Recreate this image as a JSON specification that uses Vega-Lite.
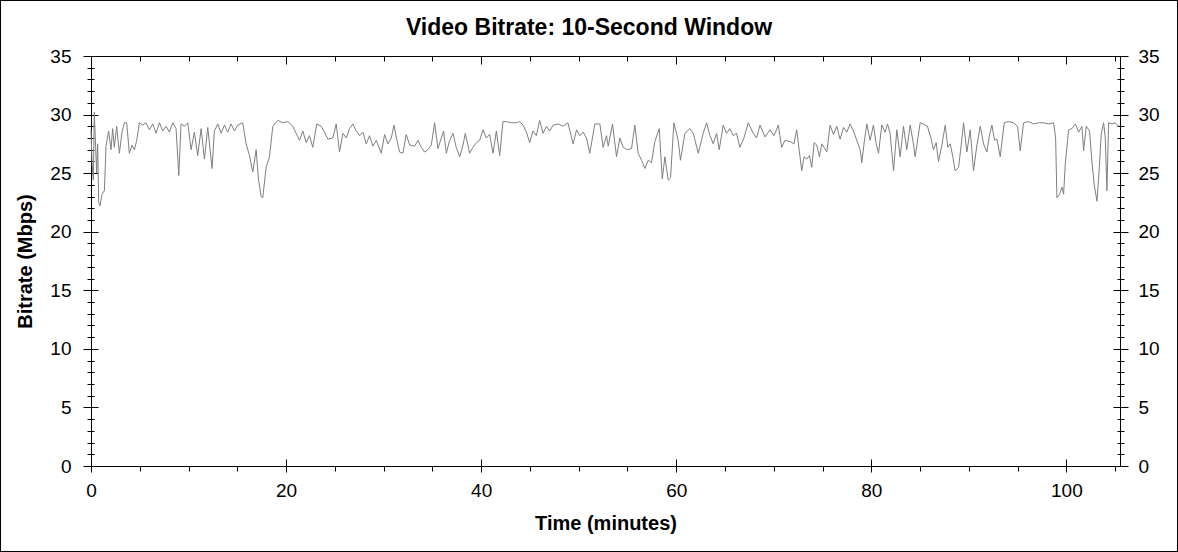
{
  "$schema": "https://vega.github.io/schema/vega-lite/v6.json",
  "autosize": {"type": "none"},
  "width": 1178,
  "height": 552,
  "padding": 0,
  "background": "white",
  "title": {"text": "Video Bitrate: 10-Second Window", "anchor": "middle", "frame": "group", "font": "Liberation Sans", "fontSize": 23, "fontWeight": "bold", "color": "black", "offset": -58, "baseline": "alphabetic"},
  "datasets": {
    "bitrate": [
      {"time": 0, "mbps": 28.7}, {"time": 0.1, "mbps": 26.0}, {"time": 0.24, "mbps": 24.4}, {"time": 0.34, "mbps": 30.2}, {"time": 0.44, "mbps": 28.0}, {"time": 0.58, "mbps": 25.0}, {"time": 0.68, "mbps": 27.5}, {"time": 0.79, "mbps": 22.5}, {"time": 0.92, "mbps": 22.2}, {"time": 1.13, "mbps": 23.2}, {"time": 1.37, "mbps": 23.5}, {"time": 1.54, "mbps": 27.3}, {"time": 1.81, "mbps": 28.6}, {"time": 2.05, "mbps": 27.0}, {"time": 2.22, "mbps": 28.8}, {"time": 2.39, "mbps": 27.2}, {"time": 2.63, "mbps": 29.0}, {"time": 2.91, "mbps": 26.7}, {"time": 3.18, "mbps": 28.5}, {"time": 3.42, "mbps": 29.3}, {"time": 3.66, "mbps": 29.3}, {"time": 3.93, "mbps": 26.7}, {"time": 4.21, "mbps": 27.4}, {"time": 4.45, "mbps": 27.0}, {"time": 4.69, "mbps": 27.8}, {"time": 4.96, "mbps": 29.3},
      {"time": 5.3, "mbps": 29.1}, {"time": 5.64, "mbps": 29.3}, {"time": 5.99, "mbps": 28.7}, {"time": 6.33, "mbps": 29.2}, {"time": 6.67, "mbps": 28.4}, {"time": 7.01, "mbps": 29.3}, {"time": 7.35, "mbps": 28.6}, {"time": 7.7, "mbps": 29.0}, {"time": 8.04, "mbps": 28.5}, {"time": 8.38, "mbps": 29.3}, {"time": 8.72, "mbps": 28.8}, {"time": 9.0, "mbps": 24.8}, {"time": 9.23, "mbps": 29.2}, {"time": 9.58, "mbps": 29.0}, {"time": 9.92, "mbps": 29.3},
      {"time": 10.26, "mbps": 27.0}, {"time": 10.6, "mbps": 28.5}, {"time": 10.94, "mbps": 26.5}, {"time": 11.29, "mbps": 28.8}, {"time": 11.63, "mbps": 26.2}, {"time": 11.97, "mbps": 28.9}, {"time": 12.41, "mbps": 25.4}, {"time": 12.65, "mbps": 28.6}, {"time": 13.0, "mbps": 29.2}, {"time": 13.34, "mbps": 28.4}, {"time": 13.68, "mbps": 29.1}, {"time": 14.02, "mbps": 28.5}, {"time": 14.36, "mbps": 29.2}, {"time": 14.71, "mbps": 28.6}, {"time": 15.05, "mbps": 29.1}, {"time": 15.56, "mbps": 29.3}, {"time": 15.9, "mbps": 27.5}, {"time": 16.25, "mbps": 26.5}, {"time": 16.59, "mbps": 25.1}, {"time": 16.93, "mbps": 27.0}, {"time": 17.17, "mbps": 24.5}, {"time": 17.44, "mbps": 23.0}, {"time": 17.61, "mbps": 22.9}, {"time": 17.96, "mbps": 25.5}, {"time": 18.3, "mbps": 26.4}, {"time": 18.64, "mbps": 29.0}, {"time": 19.15, "mbps": 29.5}, {"time": 19.67, "mbps": 29.3},
      {"time": 20.18, "mbps": 29.4}, {"time": 20.69, "mbps": 29.0}, {"time": 21.03, "mbps": 28.4}, {"time": 21.38, "mbps": 27.8}, {"time": 21.72, "mbps": 28.6}, {"time": 22.06, "mbps": 27.6}, {"time": 22.4, "mbps": 28.2}, {"time": 22.74, "mbps": 27.2}, {"time": 23.15, "mbps": 29.2}, {"time": 23.6, "mbps": 29.0}, {"time": 23.94, "mbps": 28.5}, {"time": 24.28, "mbps": 27.9}, {"time": 24.8, "mbps": 28.0}, {"time": 25.14, "mbps": 29.2}, {"time": 25.48, "mbps": 26.8}, {"time": 25.83, "mbps": 28.4}, {"time": 26.17, "mbps": 28.0}, {"time": 26.51, "mbps": 28.8}, {"time": 26.85, "mbps": 29.2}, {"time": 27.2, "mbps": 28.6}, {"time": 27.54, "mbps": 28.2}, {"time": 27.88, "mbps": 28.5}, {"time": 28.22, "mbps": 27.5}, {"time": 28.56, "mbps": 28.2}, {"time": 28.9, "mbps": 27.3}, {"time": 29.25, "mbps": 27.8}, {"time": 29.76, "mbps": 26.7},
      {"time": 30.1, "mbps": 28.3}, {"time": 30.44, "mbps": 27.5}, {"time": 30.79, "mbps": 28.0}, {"time": 31.06, "mbps": 29.1}, {"time": 31.37, "mbps": 27.8}, {"time": 31.64, "mbps": 26.8}, {"time": 31.98, "mbps": 26.7}, {"time": 32.32, "mbps": 28.3}, {"time": 32.67, "mbps": 27.4}, {"time": 33.18, "mbps": 27.3}, {"time": 33.52, "mbps": 27.8}, {"time": 33.86, "mbps": 27.2}, {"time": 34.21, "mbps": 26.8}, {"time": 34.55, "mbps": 27.0}, {"time": 34.89, "mbps": 27.4}, {"time": 35.23, "mbps": 29.3}, {"time": 35.57, "mbps": 27.1}, {"time": 35.92, "mbps": 28.0}, {"time": 36.15, "mbps": 28.6}, {"time": 36.43, "mbps": 26.7}, {"time": 36.77, "mbps": 27.8}, {"time": 37.11, "mbps": 28.4}, {"time": 37.45, "mbps": 27.2}, {"time": 37.8, "mbps": 26.4}, {"time": 38.14, "mbps": 27.4}, {"time": 38.38, "mbps": 28.4}, {"time": 38.82, "mbps": 26.7}, {"time": 39.16, "mbps": 27.2}, {"time": 39.51, "mbps": 27.6}, {"time": 39.85, "mbps": 27.8},
      {"time": 40.19, "mbps": 28.7}, {"time": 40.53, "mbps": 28.0}, {"time": 40.87, "mbps": 28.3}, {"time": 41.22, "mbps": 26.7}, {"time": 41.56, "mbps": 28.6}, {"time": 41.9, "mbps": 26.5}, {"time": 42.24, "mbps": 29.4}, {"time": 42.58, "mbps": 29.4}, {"time": 43.1, "mbps": 29.3}, {"time": 43.61, "mbps": 29.3}, {"time": 43.95, "mbps": 29.4}, {"time": 44.29, "mbps": 29.1}, {"time": 44.64, "mbps": 28.5}, {"time": 44.98, "mbps": 27.6}, {"time": 45.32, "mbps": 28.6}, {"time": 45.66, "mbps": 28.2}, {"time": 46.0, "mbps": 29.5}, {"time": 46.35, "mbps": 28.4}, {"time": 46.69, "mbps": 29.0}, {"time": 47.03, "mbps": 28.6}, {"time": 47.38, "mbps": 29.1}, {"time": 47.9, "mbps": 29.2}, {"time": 48.4, "mbps": 29.0}, {"time": 48.9, "mbps": 29.3}, {"time": 49.43, "mbps": 27.5}, {"time": 49.78, "mbps": 28.7},
      {"time": 50.12, "mbps": 28.2}, {"time": 50.46, "mbps": 28.5}, {"time": 50.8, "mbps": 28.0}, {"time": 51.14, "mbps": 26.7}, {"time": 51.66, "mbps": 29.2}, {"time": 52.17, "mbps": 29.2}, {"time": 52.51, "mbps": 27.2}, {"time": 52.85, "mbps": 28.2}, {"time": 53.03, "mbps": 27.3}, {"time": 53.47, "mbps": 29.2}, {"time": 53.88, "mbps": 26.4}, {"time": 54.22, "mbps": 28.0}, {"time": 54.56, "mbps": 27.2}, {"time": 54.97, "mbps": 27.0}, {"time": 55.42, "mbps": 27.1}, {"time": 55.76, "mbps": 29.1}, {"time": 56.1, "mbps": 26.7}, {"time": 56.45, "mbps": 26.1}, {"time": 56.79, "mbps": 25.4}, {"time": 57.13, "mbps": 26.1}, {"time": 57.47, "mbps": 25.9}, {"time": 57.81, "mbps": 27.7}, {"time": 58.26, "mbps": 28.8}, {"time": 58.57, "mbps": 24.5}, {"time": 58.84, "mbps": 26.4}, {"time": 59.18, "mbps": 24.4}, {"time": 59.42, "mbps": 24.6}, {"time": 59.76, "mbps": 29.3},
      {"time": 60.2, "mbps": 27.8}, {"time": 60.44, "mbps": 26.1}, {"time": 60.89, "mbps": 28.4}, {"time": 61.4, "mbps": 28.8}, {"time": 61.75, "mbps": 28.4}, {"time": 62.26, "mbps": 26.7}, {"time": 62.77, "mbps": 28.4}, {"time": 63.11, "mbps": 29.3}, {"time": 63.46, "mbps": 28.2}, {"time": 63.8, "mbps": 27.5}, {"time": 64.14, "mbps": 28.4}, {"time": 64.41, "mbps": 27.0}, {"time": 64.82, "mbps": 29.1}, {"time": 65.16, "mbps": 28.4}, {"time": 65.5, "mbps": 28.8}, {"time": 65.85, "mbps": 28.2}, {"time": 66.19, "mbps": 28.4}, {"time": 66.53, "mbps": 27.2}, {"time": 66.94, "mbps": 28.0}, {"time": 67.39, "mbps": 29.3}, {"time": 67.9, "mbps": 28.4}, {"time": 68.24, "mbps": 28.0}, {"time": 68.59, "mbps": 29.1}, {"time": 69.1, "mbps": 28.1}, {"time": 69.61, "mbps": 28.7},
      {"time": 70.03, "mbps": 28.2}, {"time": 70.47, "mbps": 29.1}, {"time": 70.81, "mbps": 27.2}, {"time": 71.15, "mbps": 27.8}, {"time": 71.67, "mbps": 27.7}, {"time": 72.08, "mbps": 27.5}, {"time": 72.35, "mbps": 28.7}, {"time": 72.62, "mbps": 26.9}, {"time": 72.87, "mbps": 25.2}, {"time": 73.11, "mbps": 26.4}, {"time": 73.38, "mbps": 26.2}, {"time": 73.66, "mbps": 26.5}, {"time": 73.9, "mbps": 25.5}, {"time": 74.14, "mbps": 27.6}, {"time": 74.41, "mbps": 27.4}, {"time": 74.68, "mbps": 26.4}, {"time": 74.92, "mbps": 27.5}, {"time": 75.16, "mbps": 27.2}, {"time": 75.44, "mbps": 26.8}, {"time": 75.78, "mbps": 29.1}, {"time": 76.12, "mbps": 28.3}, {"time": 76.46, "mbps": 29.0}, {"time": 76.8, "mbps": 27.9}, {"time": 77.15, "mbps": 28.9}, {"time": 77.49, "mbps": 28.5}, {"time": 77.83, "mbps": 29.2}, {"time": 78.17, "mbps": 28.6}, {"time": 78.51, "mbps": 27.8}, {"time": 78.86, "mbps": 27.0}, {"time": 79.03, "mbps": 25.9}, {"time": 79.27, "mbps": 27.6}, {"time": 79.54, "mbps": 29.2}, {"time": 79.88, "mbps": 27.8},
      {"time": 80.22, "mbps": 29.1}, {"time": 80.5, "mbps": 27.5}, {"time": 80.74, "mbps": 26.7}, {"time": 81.08, "mbps": 29.1}, {"time": 81.42, "mbps": 28.5}, {"time": 81.66, "mbps": 29.2}, {"time": 81.93, "mbps": 28.4}, {"time": 82.28, "mbps": 25.2}, {"time": 82.62, "mbps": 28.7}, {"time": 82.96, "mbps": 26.4}, {"time": 83.3, "mbps": 29.0}, {"time": 83.64, "mbps": 27.0}, {"time": 83.99, "mbps": 29.1}, {"time": 84.26, "mbps": 27.8}, {"time": 84.5, "mbps": 26.4}, {"time": 85.01, "mbps": 29.3}, {"time": 85.35, "mbps": 29.2}, {"time": 85.76, "mbps": 29.0}, {"time": 86.11, "mbps": 28.0}, {"time": 86.38, "mbps": 27.0}, {"time": 86.65, "mbps": 27.6}, {"time": 86.89, "mbps": 26.0}, {"time": 87.24, "mbps": 27.4}, {"time": 87.58, "mbps": 29.1}, {"time": 87.85, "mbps": 27.2}, {"time": 88.09, "mbps": 27.5}, {"time": 88.36, "mbps": 26.4}, {"time": 88.6, "mbps": 25.2}, {"time": 88.95, "mbps": 25.5}, {"time": 89.22, "mbps": 27.4}, {"time": 89.46, "mbps": 29.3}, {"time": 89.8, "mbps": 26.8},
      {"time": 90.14, "mbps": 28.7}, {"time": 90.48, "mbps": 25.2}, {"time": 90.83, "mbps": 27.4}, {"time": 91.17, "mbps": 29.0}, {"time": 91.51, "mbps": 27.5}, {"time": 91.85, "mbps": 26.8}, {"time": 92.13, "mbps": 28.3}, {"time": 92.37, "mbps": 29.1}, {"time": 92.64, "mbps": 27.8}, {"time": 92.88, "mbps": 27.9}, {"time": 93.22, "mbps": 26.4}, {"time": 93.63, "mbps": 29.3}, {"time": 94.08, "mbps": 29.4}, {"time": 94.59, "mbps": 29.3}, {"time": 95.0, "mbps": 29.0}, {"time": 95.27, "mbps": 26.9}, {"time": 95.61, "mbps": 29.3}, {"time": 96.13, "mbps": 29.4}, {"time": 96.64, "mbps": 29.2}, {"time": 97.15, "mbps": 29.3}, {"time": 97.67, "mbps": 29.3}, {"time": 98.18, "mbps": 29.2}, {"time": 98.69, "mbps": 29.3}, {"time": 98.9, "mbps": 28.0}, {"time": 99.03, "mbps": 22.9}, {"time": 99.31, "mbps": 23.2}, {"time": 99.55, "mbps": 23.8}, {"time": 99.72, "mbps": 23.2}, {"time": 99.89, "mbps": 25.8},
      {"time": 100.23, "mbps": 28.7}, {"time": 100.57, "mbps": 28.8}, {"time": 100.92, "mbps": 29.2}, {"time": 101.26, "mbps": 28.5}, {"time": 101.6, "mbps": 29.0}, {"time": 101.77, "mbps": 26.9}, {"time": 102.04, "mbps": 29.0}, {"time": 102.38, "mbps": 28.6}, {"time": 102.62, "mbps": 26.0}, {"time": 102.86, "mbps": 24.0}, {"time": 103.14, "mbps": 22.6}, {"time": 103.38, "mbps": 25.5}, {"time": 103.58, "mbps": 28.4}, {"time": 103.82, "mbps": 29.3}, {"time": 103.99, "mbps": 28.0}, {"time": 104.16, "mbps": 23.5}, {"time": 104.33, "mbps": 29.3}, {"time": 104.68, "mbps": 29.2}, {"time": 105.02, "mbps": 29.3}, {"time": 105.36, "mbps": 29.0}
    ]
  },
  "data": {"name": "bitrate"},
  "resolve": {"axis": {"x": "independent", "y": "independent"}},
  "layer": [
    {
      "mark": {"type": "line", "color": "#7f7f7f", "strokeWidth": 1},
      "encoding": {
        "x": {"field": "time", "type": "quantitative", "scale": {"domain": [0, 105.5], "range": [91, 1120], "nice": false, "zero": false},
          "axis": {"orient": "bottom", "offset": -86, "values": [0, 20, 40, 60, 80, 100], "tickSize": 6, "domain": true, "labels": true, "labelPadding": 9, "title": "Time (minutes)", "titlePadding": 13}},
        "y": {"field": "mbps", "type": "quantitative", "scale": {"domain": [0, 35], "range": [466, 56], "nice": false},
          "axis": {"orient": "left", "offset": -91, "values": [0, 5, 10, 15, 20, 25, 30, 35], "tickSize": 8, "domain": true, "labels": true, "labelPadding": 12, "title": "Bitrate (Mbps)", "titlePadding": 14}}
      }
    },
    {
      "mark": {"type": "line", "opacity": 0},
      "encoding": {
        "x": {"field": "time", "type": "quantitative", "axis": {"orient": "bottom", "offset": -86, "values": [0, 5, 10, 15, 20, 25, 30, 35, 40, 45, 50, 55, 60, 65, 70, 75, 80, 85, 90, 95, 100, 105], "tickSize": 5, "domain": false, "labels": false, "title": null}},
        "y": {"field": "mbps", "type": "quantitative", "axis": {"orient": "right", "offset": -58, "values": [0, 5, 10, 15, 20, 25, 30, 35], "tickSize": 8, "domain": true, "labels": true, "labelPadding": 10, "title": null}}
      }
    },
    {
      "mark": {"type": "line", "opacity": 0},
      "encoding": {
        "x": {"field": "time", "type": "quantitative", "axis": {"orient": "bottom", "offset": -86, "values": [0, 20, 40, 60, 80, 100], "tickSize": -7, "domain": false, "labels": false, "title": null}},
        "y": {"field": "mbps", "type": "quantitative", "axis": {"orient": "left", "offset": -91, "values": [0, 1, 2, 3, 4, 5, 6, 7, 8, 9, 10, 11, 12, 13, 14, 15, 16, 17, 18, 19, 20, 21, 22, 23, 24, 25, 26, 27, 28, 29, 30, 31, 32, 33, 34, 35], "tickSize": 4, "domain": false, "labels": false, "title": null}}
      }
    },
    {
      "mark": {"type": "line", "opacity": 0},
      "encoding": {
        "x": {"field": "time", "type": "quantitative", "axis": {"orient": "top", "offset": -56, "values": [0, 5, 10, 15, 20, 25, 30, 35, 40, 45, 50, 55, 60, 65, 70, 75, 80, 85, 90, 95, 100, 105], "tickSize": -5, "domain": true, "labels": false, "title": null}},
        "y": {"field": "mbps", "type": "quantitative", "axis": {"orient": "right", "offset": -58, "values": [0, 1, 2, 3, 4, 5, 6, 7, 8, 9, 10, 11, 12, 13, 14, 15, 16, 17, 18, 19, 20, 21, 22, 23, 24, 25, 26, 27, 28, 29, 30, 31, 32, 33, 34, 35], "tickSize": 4, "domain": false, "labels": false, "title": null}}
      }
    },
    {
      "mark": {"type": "line", "opacity": 0},
      "encoding": {
        "x": {"field": "time", "type": "quantitative", "axis": {"orient": "top", "offset": -56, "values": [0, 20, 40, 60, 80, 100], "tickSize": -8, "domain": false, "labels": false, "title": null}},
        "y": {"field": "mbps", "type": "quantitative", "axis": {"orient": "left", "offset": -91, "values": [0, 1, 2, 3, 4, 5, 6, 7, 8, 9, 10, 11, 12, 13, 14, 15, 16, 17, 18, 19, 20, 21, 22, 23, 24, 25, 26, 27, 28, 29, 30, 31, 32, 33, 34, 35], "tickSize": -3, "domain": false, "labels": false, "title": null}}
      }
    },
    {
      "mark": {"type": "line", "opacity": 0},
      "encoding": {
        "x": {"field": "time", "type": "quantitative", "axis": null},
        "y": {"field": "mbps", "type": "quantitative", "axis": {"orient": "right", "offset": -58, "values": [0, 1, 2, 3, 4, 5, 6, 7, 8, 9, 10, 11, 12, 13, 14, 15, 16, 17, 18, 19, 20, 21, 22, 23, 24, 25, 26, 27, 28, 29, 30, 31, 32, 33, 34, 35], "tickSize": -3, "domain": false, "labels": false, "title": null}}
      }
    },
    {
      "mark": {"type": "line", "opacity": 0},
      "encoding": {
        "x": {"field": "time", "type": "quantitative", "axis": null},
        "y": {"field": "mbps", "type": "quantitative", "axis": {"orient": "left", "offset": -91, "values": [0, 5, 10, 15, 20, 25, 30, 35], "tickSize": -7, "domain": false, "labels": false, "title": null}}
      }
    },
    {
      "mark": {"type": "line", "opacity": 0},
      "encoding": {
        "x": {"field": "time", "type": "quantitative", "axis": null},
        "y": {"field": "mbps", "type": "quantitative", "axis": {"orient": "right", "offset": -58, "values": [0, 5, 10, 15, 20, 25, 30, 35], "tickSize": -7, "domain": false, "labels": false, "title": null}}
      }
    }
  ],
  "config": {
    "view": {"stroke": "black", "strokeWidth": 2},
    "axis": {"grid": false, "domainColor": "black", "tickColor": "black", "labelColor": "black", "titleColor": "black", "domainWidth": 1, "tickWidth": 1, "labelFont": "Liberation Sans", "titleFont": "Liberation Sans", "labelFontSize": 19, "titleFontSize": 20, "titleFontWeight": "bold", "labelOverlap": false, "labelFlush": false, "labelBound": false}
  }
}
